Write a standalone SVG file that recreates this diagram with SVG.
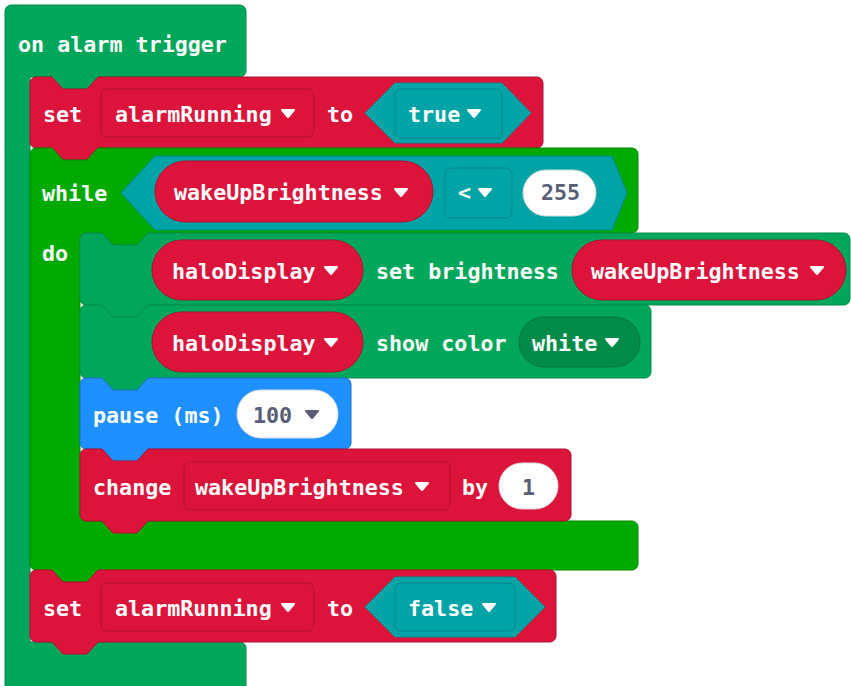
<svg xmlns="http://www.w3.org/2000/svg" xmlns:xlink="http://www.w3.org/1999/xlink" width="851" height="686" viewBox="0 0 851 686">
<defs>
<style>
.t{font-family:"DejaVu Sans Mono","Liberation Mono",monospace;font-weight:bold;font-size:21.7px;fill:#ffffff}
.n{fill:#575E75}
.ev{fill:#00A65A;stroke:#008C4C;stroke-width:1}
.lp{fill:#00AA00;stroke:#008800;stroke-width:1}
.rd{fill:#DC143C;stroke:#B01030;stroke-width:1}
.tl{fill:#00A4A6;stroke:#00878A;stroke-width:1}
.bl{fill:#1E90FF;stroke:#1A73CC;stroke-width:1}
.dg{fill:#008C48;stroke:#00773D;stroke-width:1}
.wh{fill:#ffffff;stroke:#d9d9d9;stroke-width:1}
.aw{fill:#ffffff;stroke:#ffffff;stroke-width:2;stroke-linejoin:round}
.ag{fill:#575E75;stroke:#575E75;stroke-width:2;stroke-linejoin:round}
</style>
<path id="arr" d="M1,1 H13 L7,8 Z"/>
</defs>
<rect width="851" height="686" fill="#ffffff"/>

<g id="event-on-alarm-trigger">
<path class="ev" d="M5,11 A6,6 0 0 1 11,5 H240 A6,6 0 0 1 246,11 V71 A6,6 0 0 1 240,77 H98 L87,89 H63 L52,77 H30 V642 H240 A6,6 0 0 1 246,648 V700 H5 Z"/>
<text class="t" x="18" y="52">on alarm trigger</text>
</g>

<g id="set-alarmRunning-true">
<path class="rd" d="M30,83 A6,6 0 0 1 36,77 H52 L63,89 H87 L98,77 H537 A6,6 0 0 1 543,83 V142 A6,6 0 0 1 537,148 H98 L87,160 H63 L52,148 H36 A6,6 0 0 1 30,142 Z"/>
<text class="t" x="43" y="121.5">set</text>
<rect class="rd" x="101" y="89" width="213" height="48" rx="6"/>
<text class="t" x="115" y="121.5">alarmRunning</text>
<use xlink:href="#arr" class="aw" x="281" y="109"/>
<text class="t" x="327" y="121.5">to</text>
<path class="tl" d="M365,113 L395,83 H502 L531,113 L502,143 H395 Z"/>
<rect class="tl" x="395" y="89" width="107" height="49" rx="6"/>
<text class="t" x="408" y="121.5">true</text>
<use xlink:href="#arr" class="aw" x="467" y="109"/>
</g>

<g id="while-loop">
<path class="lp" d="M30,154 A6,6 0 0 1 36,148 H52 L63,160 H87 L98,148 H632 A6,6 0 0 1 638,154 V227 A6,6 0 0 1 632,233 H148 L137,245 H113 L102,233 H86 A6,6 0 0 0 80,239 V515 A6,6 0 0 0 86,521 H632 A6,6 0 0 1 638,527 V564 A6,6 0 0 1 632,570 H98 L87,582 H63 L52,570 H36 A6,6 0 0 1 30,564 Z"/>
<text class="t" x="42" y="201">while</text>
<text class="t" x="42" y="261">do</text>
<path class="tl" d="M121,193 L155,156 H612 L627,193 L612,230 H155 Z"/>
<rect class="rd" x="155" y="161" width="278" height="61" rx="30.5"/>
<text class="t" x="174" y="200">wakeUpBrightness</text>
<use xlink:href="#arr" class="aw" x="394" y="188"/>
<rect class="tl" x="445" y="168" width="67" height="50" rx="6"/>
<text class="t" x="458" y="200">&lt;</text>
<use xlink:href="#arr" class="aw" x="478" y="188"/>
<rect class="wh" x="523" y="170" width="73" height="46" rx="23"/>
<text class="t n" x="541" y="200">255</text>
</g>

<g id="halo-set-brightness">
<path class="ev" d="M80,239 A6,6 0 0 1 86,233 H102 L113,245 H137 L148,233 H844 A6,6 0 0 1 850,239 V299 A6,6 0 0 1 844,305 H148 L137,317 H113 L102,305 H86 A6,6 0 0 1 80,299 Z"/>
<rect class="rd" x="152" y="240" width="211" height="60" rx="30"/>
<text class="t" x="172" y="278.5">haloDisplay</text>
<use xlink:href="#arr" class="aw" x="324" y="266"/>
<text class="t" x="376" y="278.5">set brightness</text>
<rect class="rd" x="572" y="240" width="274" height="60" rx="30"/>
<text class="t" x="591" y="278.5">wakeUpBrightness</text>
<use xlink:href="#arr" class="aw" x="810" y="266"/>
</g>

<g id="halo-show-color">
<path class="ev" d="M80,311 A6,6 0 0 1 86,305 H102 L113,317 H137 L148,305 H645 A6,6 0 0 1 651,311 V372 A6,6 0 0 1 645,378 H148 L137,390 H113 L102,378 H86 A6,6 0 0 1 80,372 Z"/>
<rect class="rd" x="152" y="312" width="211" height="60" rx="30"/>
<text class="t" x="172" y="350.5">haloDisplay</text>
<use xlink:href="#arr" class="aw" x="324" y="338"/>
<text class="t" x="376" y="350.5">show color</text>
<rect class="dg" x="519" y="317" width="121" height="50" rx="25"/>
<text class="t" x="532" y="350.5">white</text>
<use xlink:href="#arr" class="aw" x="605" y="338"/>
</g>

<g id="pause-ms">
<path class="bl" d="M80,384 A6,6 0 0 1 86,378 H102 L113,390 H137 L148,378 H345 A6,6 0 0 1 351,384 V443 A6,6 0 0 1 345,449 H148 L137,461 H113 L102,449 H86 A6,6 0 0 1 80,443 Z"/>
<text class="t" x="93" y="422.5">pause (ms)</text>
<rect class="wh" x="237" y="390" width="101" height="48" rx="24"/>
<text class="t n" x="253" y="422.5">100</text>
<use xlink:href="#arr" class="ag" x="305" y="410"/>
</g>

<g id="change-wakeUpBrightness">
<path class="rd" d="M80,455 A6,6 0 0 1 86,449 H102 L113,461 H137 L148,449 H565 A6,6 0 0 1 571,455 V515 A6,6 0 0 1 565,521 H148 L137,533 H113 L102,521 H86 A6,6 0 0 1 80,515 Z"/>
<text class="t" x="93" y="494.5">change</text>
<rect class="rd" x="184" y="462" width="266" height="48" rx="6"/>
<text class="t" x="195" y="494.5">wakeUpBrightness</text>
<use xlink:href="#arr" class="aw" x="415" y="482"/>
<text class="t" x="462" y="494.5">by</text>
<rect class="wh" x="499" y="463" width="59" height="46" rx="23"/>
<text class="t n" x="522" y="494.5">1</text>
</g>

<g id="set-alarmRunning-false">
<path class="rd" d="M30,576 A6,6 0 0 1 36,570 H52 L63,582 H87 L98,570 H550 A6,6 0 0 1 556,576 V636 A6,6 0 0 1 550,642 H98 L87,654 H63 L52,642 H36 A6,6 0 0 1 30,636 Z"/>
<text class="t" x="43" y="615.5">set</text>
<rect class="rd" x="101" y="583" width="213" height="48" rx="6"/>
<text class="t" x="115" y="615.5">alarmRunning</text>
<use xlink:href="#arr" class="aw" x="281" y="603"/>
<text class="t" x="327" y="615.5">to</text>
<path class="tl" d="M365,607 L395,577 H515 L545,607 L515,637 H395 Z"/>
<rect class="tl" x="395" y="583" width="120" height="48" rx="6"/>
<text class="t" x="408" y="615.5">false</text>
<use xlink:href="#arr" class="aw" x="482" y="603"/>
</g>

<g id="connectors"></g>
</svg>
